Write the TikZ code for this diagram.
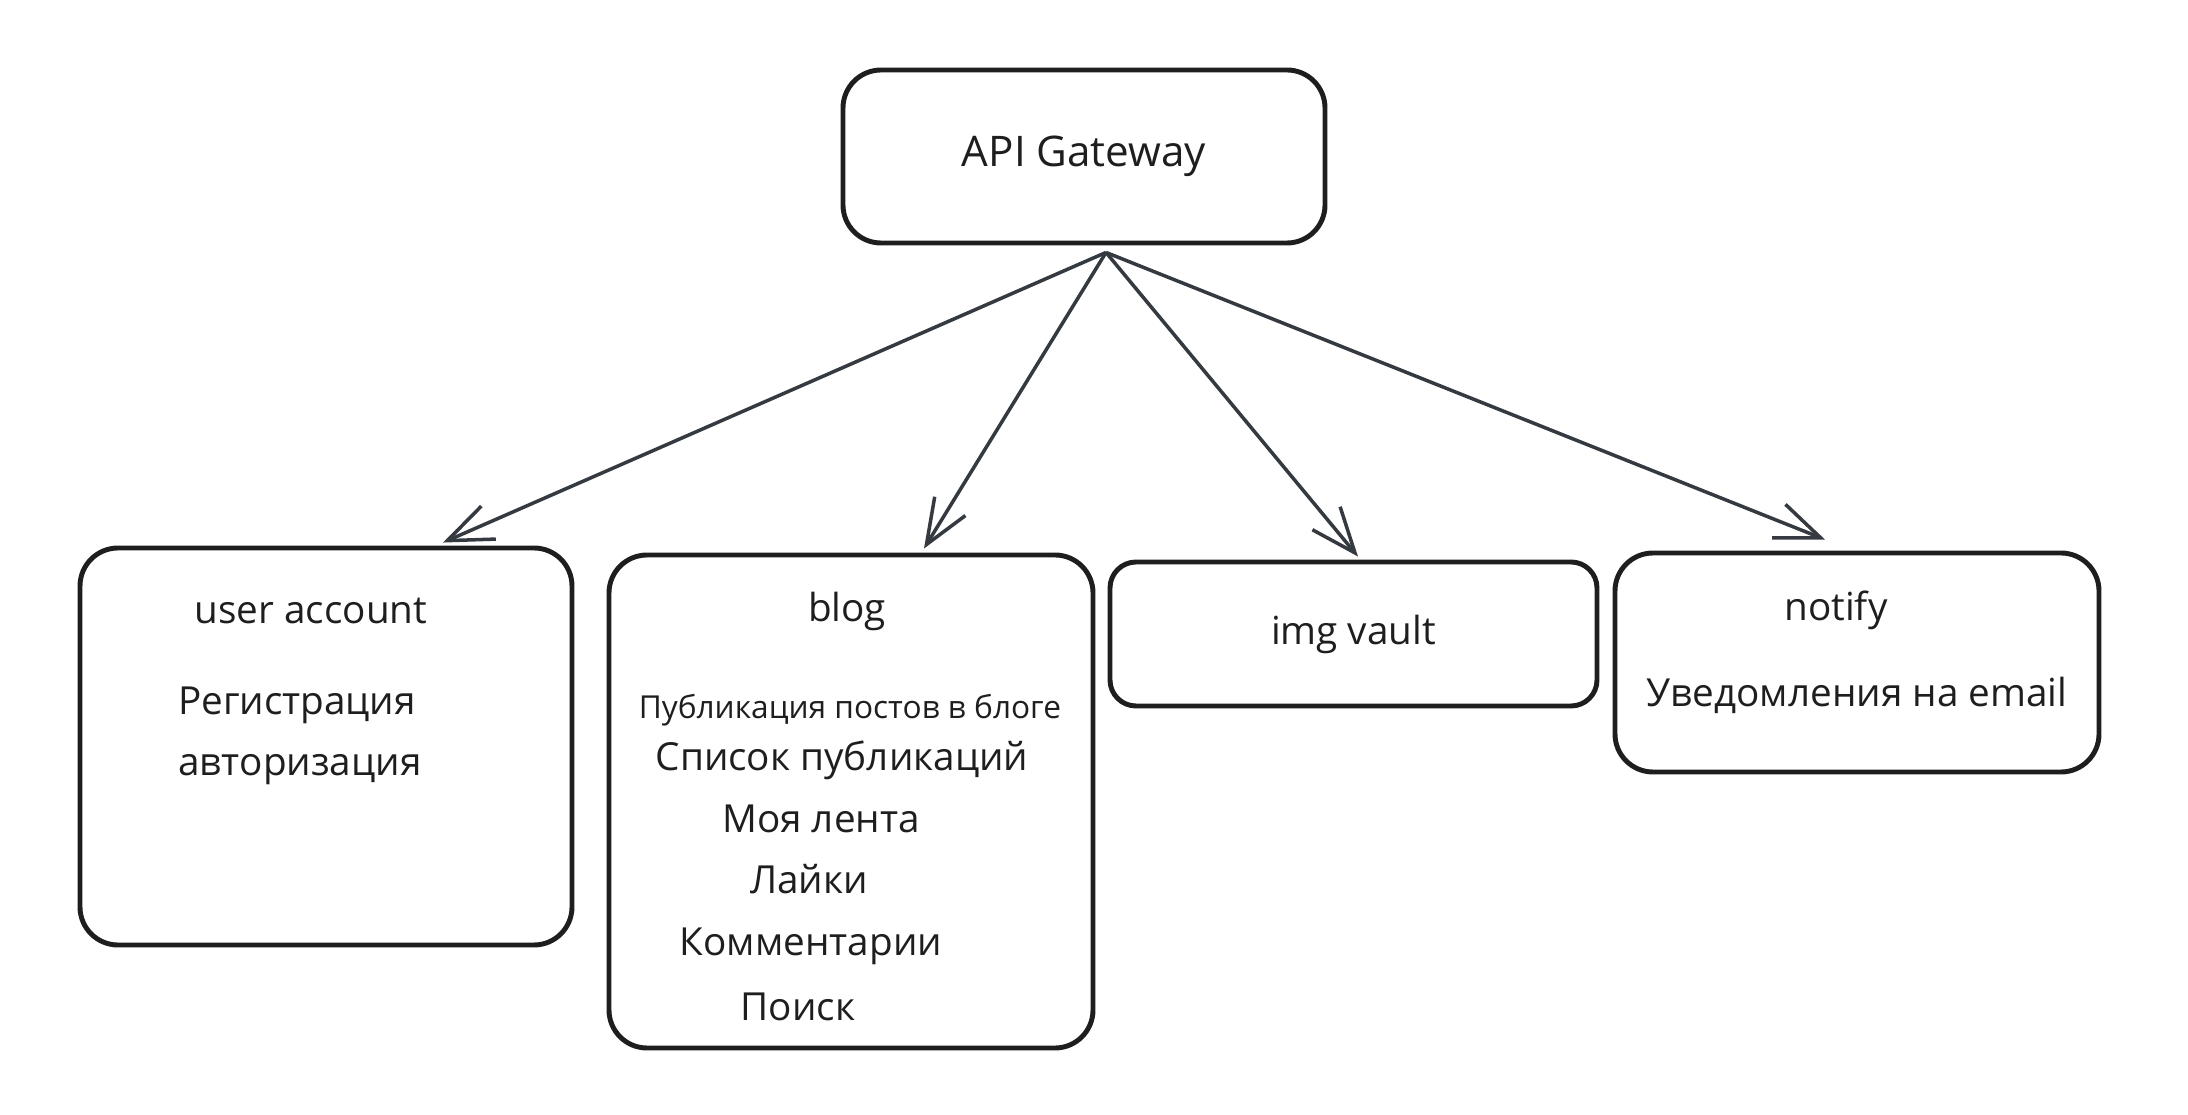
\documentclass[tikz,border=0pt]{standalone}
\usepackage{fontspec}
\setmainfont{Open Sans}
\usepackage{xcolor}
\usepackage{tikz}
\usetikzlibrary{arrows.meta,positioning}
\definecolor{ink}{HTML}{1E1E1E}
\definecolor{arrowink}{HTML}{343A40}

\begin{document}
\begin{tikzpicture}[>={Straight Barb[length=4.5mm,width=3.6mm]},every node/.style={font=\fontsize{11}{13}\selectfont,text=ink},
  box/.style={draw=ink,line width=1.4pt,rounded corners=.38cm,inner sep=0pt},
  link/.style={draw=arrowink,line width=1pt,->}]
\useasboundingbox (0,0) rectangle (21.88,11.14);
\begin{scope}[shift={(0,0)},scale=1]
\node[box,minimum width=4.82cm,minimum height=1.73cm,font=\fontsize{12}{14}\selectfont] (gw) at (10.84,9.575) {API Gateway};
\node[box,minimum width=4.92cm,minimum height=3.97cm] (user) at (3.26,3.675) {};
\node[box,minimum width=4.84cm,minimum height=4.93cm] (blog) at (8.51,3.125) {};
\node[box,minimum width=4.87cm,minimum height=1.44cm,rounded corners=.26cm] (vault) at (13.535,4.80) {img vault};
\node[box,minimum width=4.84cm,minimum height=2.19cm] (notify) at (18.57,4.515) {};
\node (useracc) at (3.11,5.03) {user account};
\node (reg) at (2.97,4.09) {Регистрация};
\node (auth) at (3.00,3.44) {авторизация};
\node (bloglbl) at (8.47,5.03) {blog};
\node[font=\fontsize{9}{11}\selectfont] (posts) at (8.50,4.04) {Публикация постов в блоге};
\node (postlist) at (8.42,3.54) {Список публикаций};
\node (feed) at (8.21,2.95) {Моя лента};
\node (likes) at (8.09,2.35) {Лайки};
\node (comments) at (8.11,1.68) {Комментарии};
\node (search) at (7.98,1.07) {Поиск};
\node (notifylbl) at (18.36,5.04) {notify};
\node (mail) at (18.57,4.19) {Уведомления на email};
\coordinate (gwout) at ([xshift=.22cm,yshift=-.07cm]gw.south);
\coordinate (userin) at ([xshift=1.17cm,yshift=.03cm]user.north);
\coordinate (blogin) at ([xshift=.73cm,yshift=.04cm]blog.north);
\coordinate (vaultin) at ([xshift=.045cm,yshift=.03cm]vault.north);
\coordinate (notifyin) at ([xshift=-.32cm,yshift=.11cm]notify.north);
\draw[link] (gwout)--(userin);
\draw[link] (gwout)--(blogin);
\draw[link] (gwout)--(vaultin);
\draw[link] (gwout)--(notifyin);
\end{scope}
\end{tikzpicture}
\end{document}
